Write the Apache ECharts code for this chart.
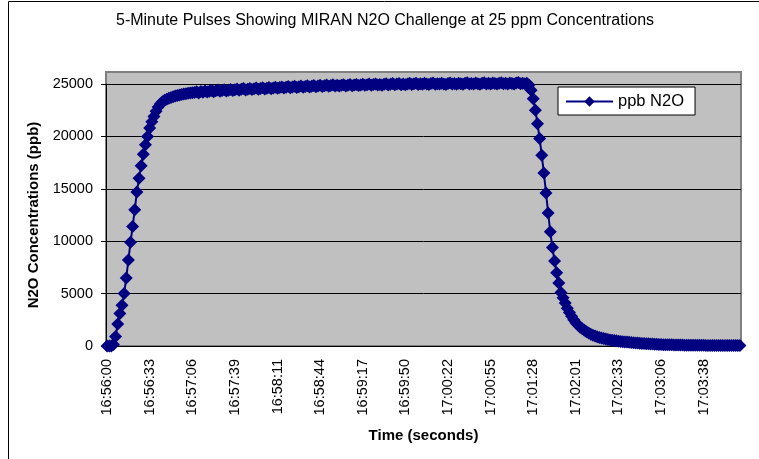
<!DOCTYPE html>
<html>
<head>
<meta charset="utf-8">
<title>MIRAN N2O Challenge</title>
<script src="https://cdn.jsdelivr.net/npm/echarts@6/dist/echarts.min.js"></script>
<style>
    html, body { margin: 0; padding: 0; background: #fff; }
    #main { width: 759px; height: 459px; }
</style>
</head>
<body>
<div id="main"></div>
<script>
// x axis labels, one every 20 samples
var tickLabels = ['16:56:00', '16:56:33', '16:57:06', '16:57:39', '16:58:11', '16:58:44', '16:59:17',
    '16:59:50', '17:00:22', '17:00:55', '17:01:28', '17:02:01', '17:02:33', '17:03:06', '17:03:38'];

// ppb N2O readings
var riseValues = [0, 0, 0, 150, 900, 2100, 3100, 3900, 5000, 6500,
    8200, 9900, 11400, 13000, 14700, 16000, 17200, 18300, 19200, 20000,
    20800, 21400, 21900, 22400, 22800, 23100, 23300, 23450, 23550, 23650,
    23720, 23790, 23850, 23900, 23950, 24000, 24040, 24080, 24110, 24140,
    24170];
var plateauValues = [24180, 24260, 24150, 24290, 24220, 24330, 24240, 24310, 24380, 24270,
    24350, 24420, 24300, 24390, 24460, 24340, 24410, 24480, 24370, 24450,
    24520, 24400, 24490, 24560, 24430, 24510, 24580, 24470, 24550, 24620,
    24500, 24570, 24640, 24530, 24600, 24670, 24550, 24620, 24690, 24590,
    24660, 24720, 24610, 24690, 24760, 24640, 24710, 24780, 24670, 24740,
    24800, 24690, 24760, 24830, 24710, 24780, 24850, 24730, 24800, 24870,
    24760, 24830, 24900, 24780, 24850, 24920, 24800, 24870, 24810, 24890,
    24940, 24820, 24880, 24950, 24840, 24900, 24960, 24850, 24910, 24970,
    24870, 24930, 24990, 24880, 24950, 25010, 24900, 24960, 24890, 24980,
    25030, 24910, 24970, 25040, 24920, 24990, 25050, 24940, 25000, 24930,
    25010, 25060, 24950, 25020, 25070, 24960, 25030, 24980, 25080, 25000,
    24950, 25040, 25090, 24970, 25030, 24990, 25070, 25010, 24960, 25050,
    25100, 24990, 25040, 24980, 25080, 25020, 24970, 25060, 25110, 25000,
    25050, 24990, 25090, 25030, 24980, 25070, 25120, 25010, 25060, 25000,
    25090, 25040, 24990, 25080, 25130, 25020, 25070, 25010, 25100, 25050,
    25000, 25090, 25140, 25030, 25080, 25020, 25060];
var fallValues = [24900, 24400, 23600, 22500, 21200, 19800, 18200, 16500, 14600, 12700,
    10900, 9400, 8100, 7000, 6000, 5100, 4600, 4100, 3600, 3200,
    2850, 2500, 2220, 2000, 1800, 1640, 1500, 1360, 1240, 1130,
    1030, 950, 880, 810, 760, 710, 660, 620, 580, 550,
    520, 490, 460];
var tailValues = [430, 410, 390, 370, 350, 330, 310, 295, 280, 265,
    250, 235, 220, 205, 190, 180, 170, 160, 150, 140,
    130, 125, 120, 115, 110, 105, 100, 95, 90, 86,
    82, 78, 75, 72, 70, 68, 66, 64, 62, 60,
    58, 57, 55, 54, 52, 51, 50, 49, 48, 47,
    46, 45, 44, 43, 42, 41, 40];

var ppbN2O = riseValues.concat(plateauValues, fallValues, tailValues);
var labelStep = 20;
var categories = ppbN2O.map(function(v, i) {
    return i % labelStep === 0 ? (tickLabels[i / labelStep] || '') : '';
});

var font = '"Liberation Sans", Arial, sans-serif';
var myChart = echarts.init(document.getElementById('main'));
var option = {
    animation: false,
    backgroundColor: '#fff',
    textStyle: { fontFamily: font, color: '#000' },
    title: {
        text: '5-Minute Pulses Showing MIRAN N2O Challenge at 25 ppm Concentrations',
        left: 385,
        top: 13,
        padding: 0,
        textAlign: 'center',
        textStyle: { fontFamily: font, fontSize: 16, fontWeight: 'normal', color: '#000' }
    },
    legend: {
        data: ['ppb N2O'],
        left: 558,
        top: 87,
        padding: [6, 11, 5, 7],
        itemWidth: 47,
        itemHeight: 13,
        backgroundColor: '#fff',
        borderColor: '#000',
        borderWidth: 1,
        borderRadius: 0,
        textStyle: { fontFamily: font, fontSize: 16.5, color: '#000' }
    },
    grid: { left: 106, right: 18, top: 84, bottom: 113 },
    graphic: [
        {
            type: 'rect',
            z: -1,
            shape: { x: 106, y: 72, width: 635, height: 274 },
            style: { fill: '#c0c0c0', stroke: '#808080', lineWidth: 2 }
        },
        {
            type: 'rect',
            z: -2,
            shape: { x: 8.5, y: 1.5, width: 800, height: 500 },
            style: { fill: null, stroke: '#000', lineWidth: 1 }
        }
    ],
    xAxis: {
        type: 'category',
        data: categories,
        boundaryGap: true,
        name: 'Time (seconds)',
        nameLocation: 'middle',
        nameGap: 82,
        nameTextStyle: { fontFamily: font, fontSize: 15, fontWeight: 'bold', color: '#000' },
        axisLine: { lineStyle: { color: '#000', width: 1 } },
        axisTick: { alignWithLabel: true, interval: labelStep - 1, length: 5, lineStyle: { color: '#000' } },
        axisLabel: { interval: labelStep - 1, rotate: 90, margin: 13, fontSize: 14.5, color: '#000', fontFamily: font },
        splitLine: { show: false }
    },
    yAxis: {
        type: 'value',
        min: 0,
        max: 25000,
        interval: 5000,
        name: 'N2O Concentrations (ppb)',
        nameLocation: 'middle',
        nameGap: 62,
        nameTextStyle: { fontFamily: font, fontSize: 15, fontWeight: 'bold', color: '#000' },
        axisLine: { show: true, lineStyle: { color: '#000', width: 1 } },
        axisTick: { show: true, length: 5, lineStyle: { color: '#000' } },
        axisLabel: {
            margin: 13, fontSize: 14.5, color: '#000', fontFamily: font,
            formatter: function(v) { return String(v); }
        },
        splitLine: { show: true, lineStyle: { color: '#000', width: 1 } }
    },
    series: [{
        name: 'ppb N2O',
        type: 'line',
        data: ppbN2O,
        clip: false,
        symbol: 'diamond',
        symbolSize: 13,
        showAllSymbol: true,
        itemStyle: { color: '#000080' },
        lineStyle: { color: '#000080', width: 2 }
    }]
};
myChart.setOption(option);
</script>
</body>
</html>
